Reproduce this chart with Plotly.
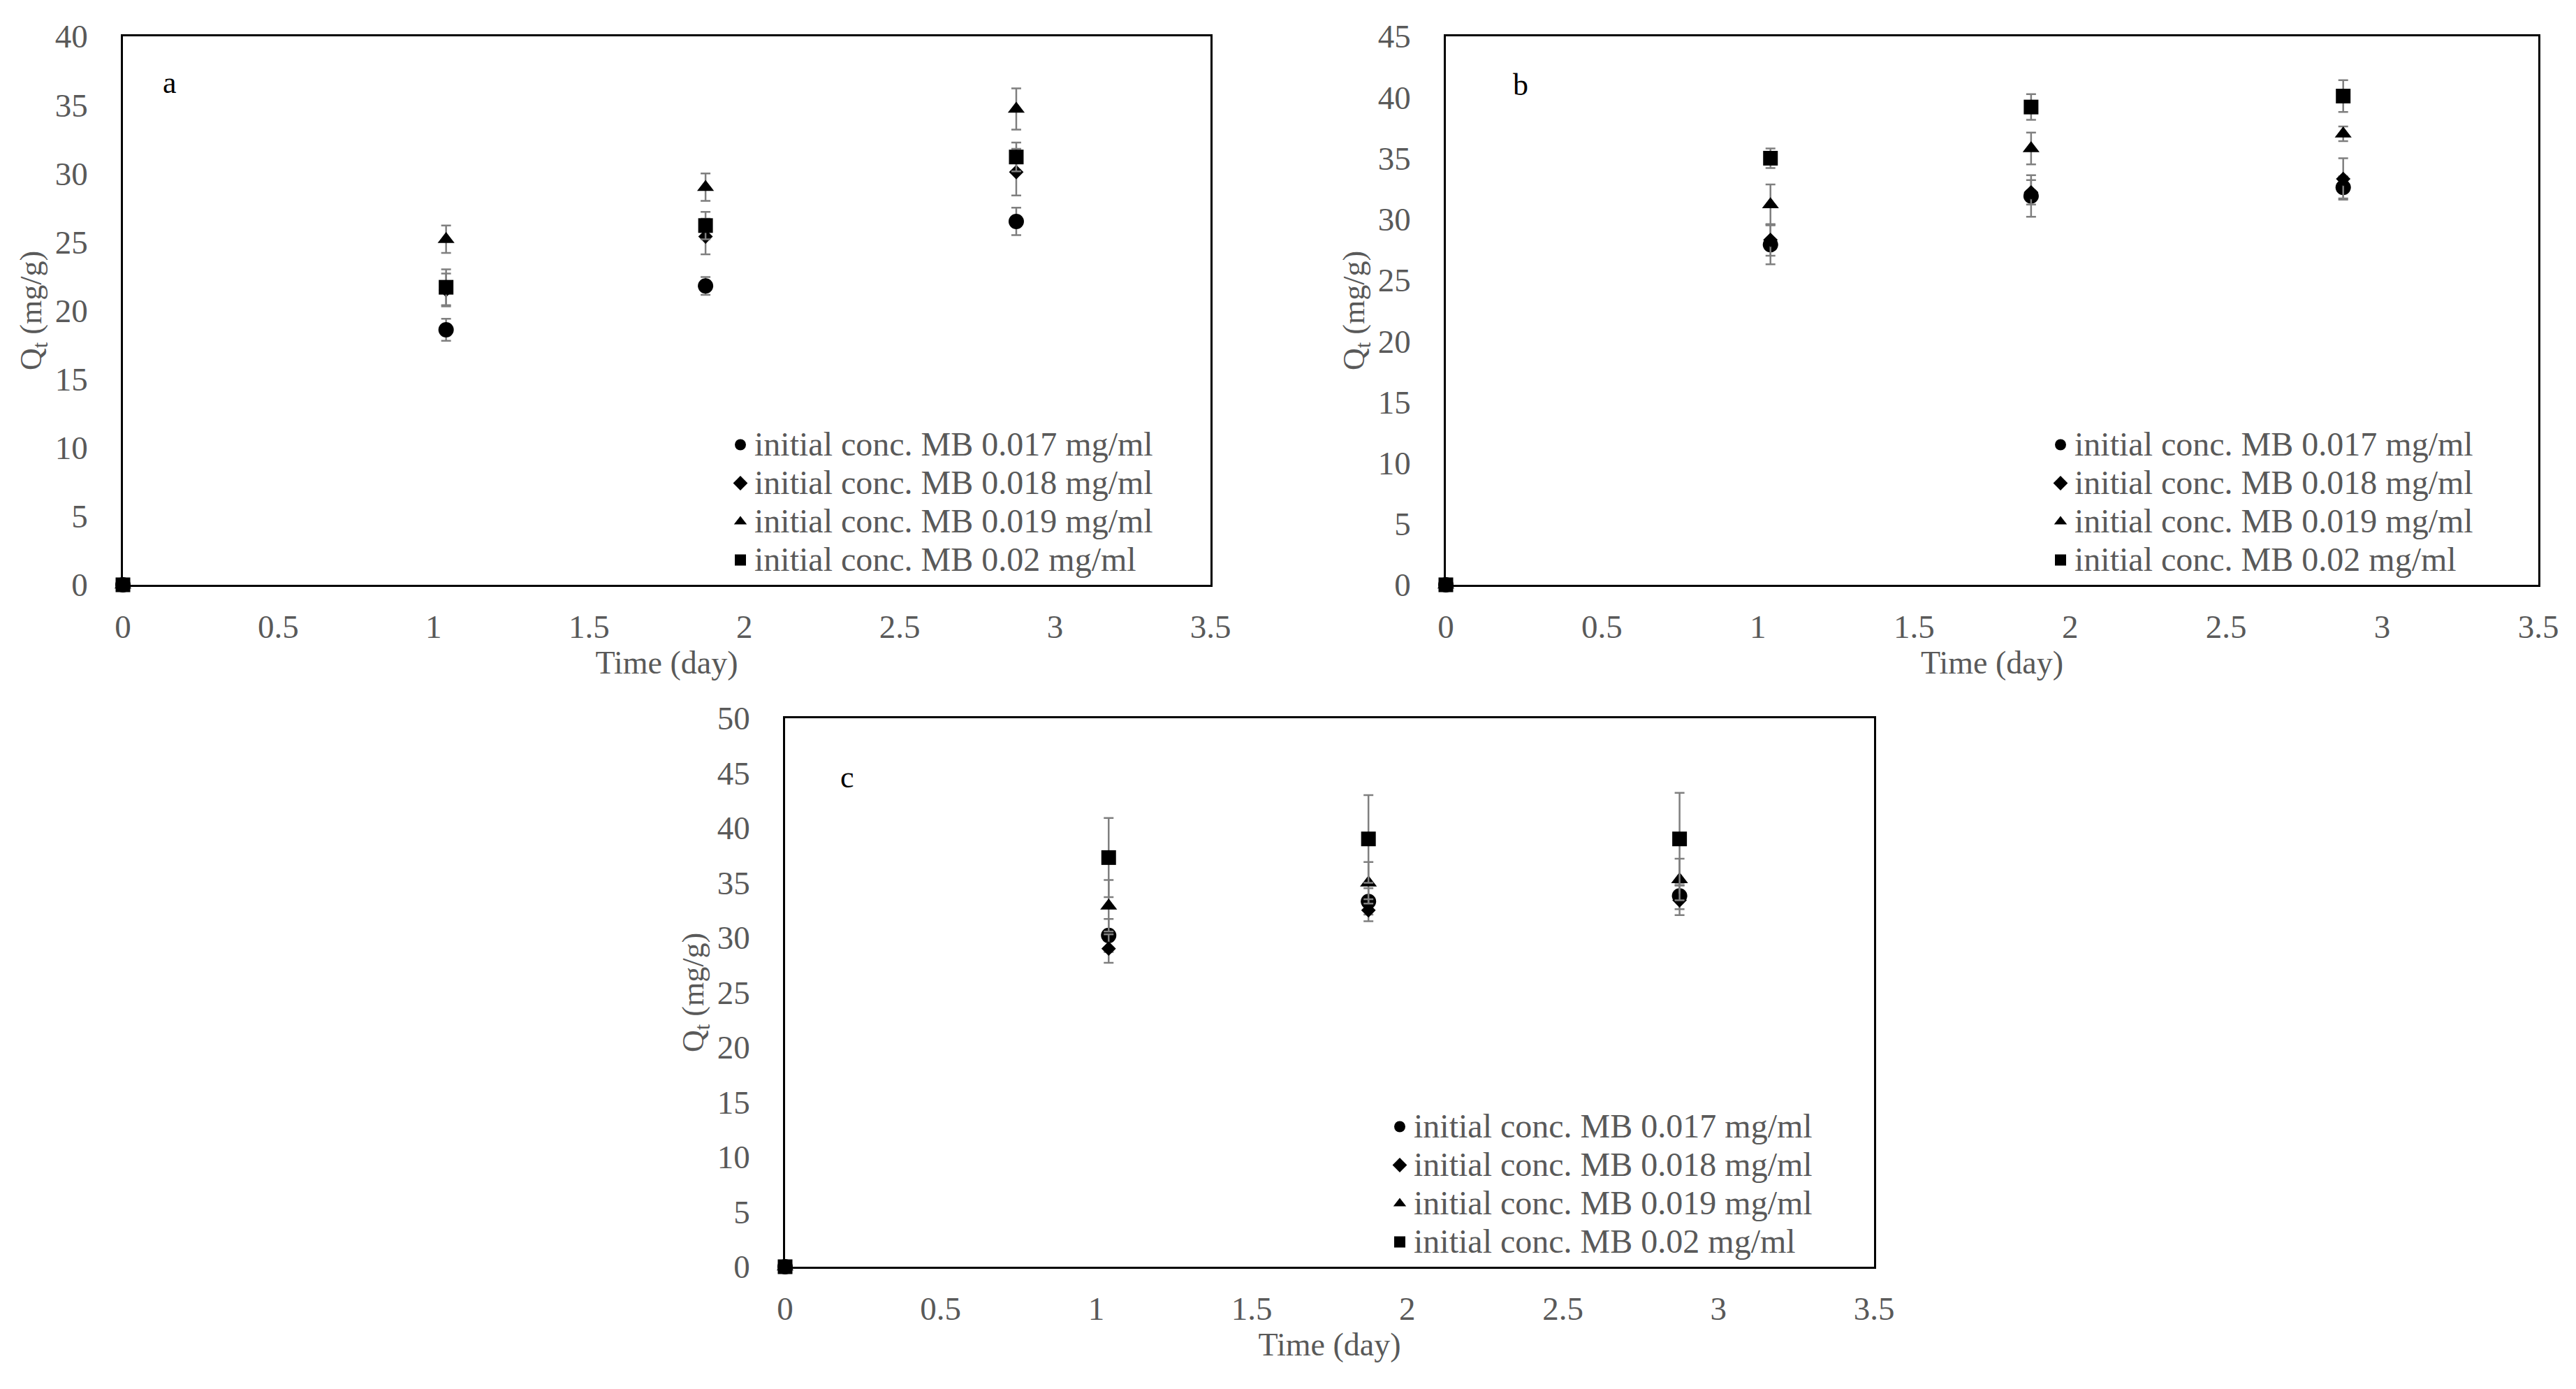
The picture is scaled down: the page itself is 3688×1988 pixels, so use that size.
import plotly.graph_objects as go

# Tiempo de contacto (días)
time_day = [0, 1.04, 1.875, 2.875]

series_names = [
    "initial conc. MB 0.017 mg/ml",
    "initial conc. MB 0.018 mg/ml",
    "initial conc. MB 0.019 mg/ml",
    "initial conc. MB 0.02 mg/ml",
]

# Panel a
qa_017 = [0, 18.6, 21.8, 26.5]
qa_018 = [0, 21.5, 25.4, 30.1]
qa_019 = [0, 25.2, 29.0, 34.7]
qa_020 = [0, 21.7, 26.2, 31.2]
ea_017 = [0, 0.8, 0.65, 1.0]
ea_018 = [0, 1.2, 1.3, 1.7]
ea_019 = [0, 1.0, 1.0, 1.5]
ea_020 = [0, 1.3, 1.0, 1.05]

# Panel b
qb_017 = [0, 27.9, 31.9, 32.6]
qb_018 = [0, 28.3, 32.2, 33.3]
qb_019 = [0, 31.2, 35.8, 37.0]
qb_020 = [0, 35.0, 39.2, 40.1]
eb_017 = [0, 1.6, 1.7, 0.9]
eb_018 = [0, 1.3, 1.0, 1.7]
eb_019 = [0, 1.65, 1.3, 0.6]
eb_020 = [0, 0.8, 1.05, 1.3]

# Panel c
qc_017 = [0, 30.2, 33.3, 33.8]
qc_018 = [0, 29.0, 32.5, 33.4]
qc_019 = [0, 32.9, 35.0, 35.3]
qc_020 = [0, 37.3, 39.0, 39.0]
ec_017 = [0, 1.5, 1.2, 1.2]
ec_018 = [0, 1.3, 1.0, 1.35]
ec_019 = [0, 2.35, 1.9, 1.9]
ec_020 = [0, 3.6, 4.0, 4.2]

panels = [
    ("a", [qa_017, qa_018, qa_019, qa_020], [ea_017, ea_018, ea_019, ea_020], 40),
    ("b", [qb_017, qb_018, qb_019, qb_020], [eb_017, eb_018, eb_019, eb_020], 45),
    ("c", [qc_017, qc_018, qc_019, qc_020], [ec_017, ec_018, ec_019, ec_020], 50),
]

symbols = ["circle", "diamond", "triangle-up", "square"]
sizes = [22, 16, 21, 21]

W, H = 3688, 1988
OFF = 8  # margen del body de la página html
# dominios en píxeles (x0, x1, ytop, ybottom)
boxes = [(176, 1733, 52, 837), (2070, 3634, 52, 837), (1124, 2683, 1028, 1813)]
legend_pos = [(1040, 604), (2930, 604), (1984, 1580)]
letter_pos = [(0.15, 36.6), (0.24, 41.0), (0.2, 44.6)]

FONT = "Liberation Serif"
GREY = "#595959"

fig = go.Figure()
layout = dict(
    width=W, height=H, margin=dict(l=0, r=0, t=0, b=0),
    paper_bgcolor="white", plot_bgcolor="white",
    font=dict(family=FONT, color=GREY, size=44),
    annotations=[],
)

for i, (letter, ys, errs, ymax) in enumerate(panels):
    sfx = "" if i == 0 else str(i + 1)
    leg = "legend" if i == 0 else "legend" + str(i + 1)
    for k in range(4):
        fig.add_trace(go.Scatter(
            x=time_day, y=ys[k], mode="markers",
            name='<span style="font-size:48px">' + series_names[k] + "</span>",
            xaxis="x" + sfx, yaxis="y" + sfx, legend=leg, cliponaxis=False,
            marker=dict(symbol=symbols[k], size=sizes[k], color="black"),
            error_y=dict(type="data", array=errs[k], visible=True,
                         color="#7f7f7f", thickness=2.5, width=7),
        ))
    x0, x1, yt, yb = [v - OFF for v in boxes[i]]
    layout["xaxis" + sfx] = dict(
        domain=[x0 / W, x1 / W], anchor="y" + sfx, range=[0, 3.5], dtick=0.5,
        showline=True, linecolor="black", linewidth=2.5, mirror=True,
        showgrid=False, zeroline=False, ticks="", ticklabelstandoff=17,
        tickfont=dict(size=47, color=GREY), automargin=False,
        title=dict(text="Time (day)", font=dict(size=46, color=GREY), standoff=8),
    )
    layout["yaxis" + sfx] = dict(
        domain=[1 - yb / H, 1 - yt / H], anchor="x" + sfx, range=[0, ymax], dtick=5,
        showline=True, linecolor="black", linewidth=2.5, mirror=True,
        showgrid=False, zeroline=False, ticks="", ticklabelstandoff=38,
        tickfont=dict(size=47, color=GREY), automargin=False,
        title=dict(text="Q<sub>t</sub> (mg/g)", font=dict(size=44, color=GREY), standoff=6),
    )
    lx, ly = legend_pos[i]
    layout[leg] = dict(
        x=(lx - OFF) / W, y=1 - (ly - OFF) / H, xanchor="left", yanchor="top",
        bgcolor="rgba(0,0,0,0)", font=dict(size=40, color=GREY, family=FONT),
        tracegroupgap=0, itemwidth=30,
    )
    tx, ty = letter_pos[i]
    layout["annotations"].append(dict(
        text=letter, x=tx, y=ty, xref="x" + sfx, yref="y" + sfx, showarrow=False,
        font=dict(size=44, color="black", family=FONT),
    ))

fig.update_layout(**layout)
fig.write_html("out.html")
